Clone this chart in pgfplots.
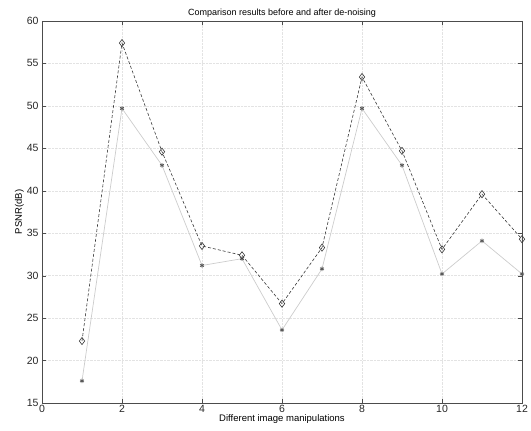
\documentclass[border=0pt]{standalone}
\usepackage{fontspec}
\setmainfont{Liberation Sans}
\usepackage{pgfplots}
\pgfplotsset{compat=1.18}
\usetikzlibrary{calc}

\begin{document}
\begin{tikzpicture}
\begin{axis}[
  name=ax,
  scale only axis,
  width=480pt,height=382pt,
  xmin=0,xmax=12,ymin=15,ymax=60,
  xtick={0,2,...,12},ytick={15,20,...,60},
  tick align=inside,
  xtick pos=both,ytick pos=both,
  major tick length=4pt,
  grid=major,
  major grid style={gray!22,densely dotted,line width=0.4pt},
  axis line style={gray!60!black,line width=0.6pt},
  tick style={gray!60!black},
  /pgf/number format/assume math mode=true,
  tick label style={font=\fontsize{10.5}{12}\selectfont,text=black!85},
  xticklabel style={yshift=1pt},
  title={Comparison results before and after de-noising},
  title style={font=\fontsize{9}{11}\selectfont,yshift=-6pt},
  xlabel={Different image manipulations},
  xlabel style={font=\fontsize{9.5}{11}\selectfont,yshift=5pt},
  ylabel={PSNR(dB)},
  ylabel style={font=\fontsize{9.5}{11}\selectfont,yshift=-4pt},
]
% after de-noising (light solid, stars)
\addplot[gray!40,line width=0.7pt,mark=asterisk,mark size=2.2pt,
  mark options={solid,gray!70!black,line width=0.8pt}] coordinates {
 (1,17.6) (2,49.7) (3,43.0) (4,31.2) (5,32.0) (6,23.6)
 (7,30.8) (8,49.7) (9,43.0) (10,30.2) (11,34.1) (12,30.2)
};
% before de-noising (dark dashed, diamonds)
\addplot[gray!45!black,densely dashed,line width=0.6pt,mark=diamond,mark size=3.6pt,
  mark options={solid,gray!45!black,fill=none,line width=0.6pt}] coordinates {
 (1,22.3) (2,57.4) (3,44.6) (4,33.5) (5,32.4) (6,26.7)
 (7,33.3) (8,53.4) (9,44.7) (10,33.1) (11,39.6) (12,34.3)
};
\end{axis}
\pgfresetboundingbox
\path ($(ax.south west)+(-42pt,-28pt)$) rectangle ($(ax.north east)+(9pt,21pt)$);
\end{tikzpicture}
\end{document}
